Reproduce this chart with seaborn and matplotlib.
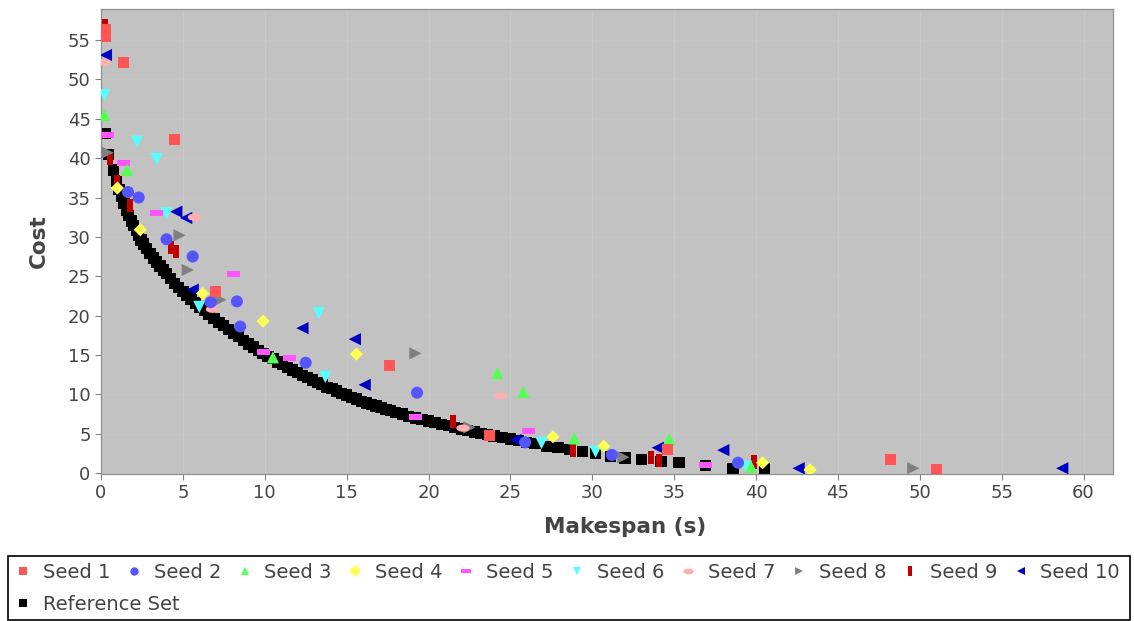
import numpy as np
import pandas as pd
import matplotlib
matplotlib.use("Agg")
import matplotlib.pyplot as plt
from matplotlib.path import Path
from matplotlib.transforms import Affine2D
from matplotlib.lines import Line2D
from matplotlib.patches import Rectangle
import seaborn as sns

# ---------------- data ----------------
seed1_x = [0.25, 0.25, 1.4, 4.5, 7.0, 17.6, 23.7, 34.6, 48.2, 51.0]
seed1_y = [56.3, 55.5, 52.1, 42.4, 23.0, 13.6, 4.8, 3.0, 1.7, 0.4]

seed2_x = [1.65, 2.3, 4.0, 5.6, 6.7, 8.3, 8.5, 12.5, 19.3, 25.9, 31.2, 38.9]
seed2_y = [35.7, 35.0, 29.7, 27.5, 21.7, 21.8, 18.6, 14.0, 10.2, 3.9, 2.3, 1.3]

seed3_x = [0.2, 1.6, 10.5, 24.2, 25.8, 28.9, 34.7, 39.7]
seed3_y = [45.5, 38.5, 14.7, 12.7, 10.3, 4.4, 4.3, 0.8]

seed4_x = [1.0, 2.4, 6.2, 9.9, 15.6, 27.6, 30.7, 40.4, 43.3]
seed4_y = [36.2, 30.9, 22.8, 19.3, 15.1, 4.6, 3.4, 1.3, 0.4]

seed5_x = [0.4, 1.35, 3.4, 8.1, 9.9, 11.5, 19.2, 26.1, 36.9]
seed5_y = [43.0, 39.4, 33.0, 25.3, 15.4, 14.6, 7.1, 5.3, 1.0]

seed6_x = [0.2, 2.2, 3.4, 4.0, 6.0, 13.3, 13.7, 26.9, 30.2, 39.4]
seed6_y = [48.0, 42.1, 39.9, 33.0, 21.1, 20.3, 12.2, 3.8, 2.7, 0.8]

seed7_x = [0.2, 5.7, 6.8, 22.1, 24.4]
seed7_y = [52.2, 32.5, 20.8, 5.7, 9.8]

seed8_x = [0.4, 4.8, 5.3, 7.3, 19.2, 22.5, 31.9, 49.6]
seed8_y = [40.7, 30.2, 25.8, 22.0, 15.2, 5.8, 2.0, 0.6]

seed9_x = [0.25, 0.55, 1.0, 1.75, 4.3, 4.6, 21.5, 28.8, 33.6, 34.1, 39.9]
seed9_y = [56.8, 40.0, 37.0, 34.0, 28.7, 28.1, 6.5, 2.9, 2.0, 1.6, 1.4]

seed10_x = [0.3, 4.6, 5.2, 5.6, 12.3, 15.5, 16.1, 25.3, 34.0, 38.0, 42.6, 58.7]
seed10_y = [53.1, 33.2, 32.4, 23.3, 18.4, 17.0, 11.2, 4.2, 3.2, 2.9, 0.6, 0.6]

ref_x = [0.25, 0.45, 0.75, 0.95, 1.10, 1.25, 1.40, 1.55, 1.70, 1.85, 2.00, 2.15,
         2.30, 2.45, 2.60, 2.80, 3.00, 3.20, 3.40, 3.60, 3.80, 4.00, 4.25, 4.50,
         4.75, 5.00, 5.25, 5.50, 5.75, 6.00, 6.30, 6.60, 6.90, 7.20, 7.50, 7.80,
         8.10, 8.40, 8.70, 9.00, 9.30, 9.60, 9.90, 10.20, 10.50, 10.80, 11.10,
         11.40, 11.70, 12.00, 12.30, 12.60, 12.90, 13.20, 13.50, 13.80, 14.10,
         14.40, 14.70, 15.00, 15.30, 15.60, 15.90, 16.20, 16.50, 16.80, 17.10,
         17.40, 17.70, 18.00, 18.40, 18.80, 19.20, 19.60, 20.00, 20.40, 20.80,
         21.20, 21.60, 22.00, 22.40, 22.80, 23.20, 23.60, 24.00, 24.50, 25.00,
         25.50, 26.00, 26.50, 27.20, 27.90, 28.60, 29.40, 30.20, 31.10, 32.00,
         33.00, 34.20, 35.30, 36.90, 38.60, 40.50]
ref_y = [43.1, 40.5, 38.5, 37.0, 36.0, 35.1, 34.2, 33.4, 32.7, 32.0, 31.4, 30.8,
         30.2, 29.6, 29.1, 28.5, 27.9, 27.3, 26.8, 26.3, 25.8, 25.3, 24.7, 24.1,
         23.6, 23.1, 22.6, 22.1, 21.6, 21.1, 20.6, 20.1, 19.6, 19.1, 18.7, 18.2,
         17.7, 17.3, 16.8, 16.4, 16.0, 15.6, 15.2, 14.8, 14.5, 14.1, 13.8,
         13.4, 13.1, 12.8, 12.4, 12.1, 11.8, 11.5, 11.2, 10.9, 10.7,
         10.4, 10.1, 9.9, 9.6, 9.4, 9.1, 8.9, 8.7, 8.5, 8.3,
         8.1, 7.9, 7.7, 7.5, 7.2, 7.0, 6.8, 6.6, 6.4, 6.2,
         6.0, 5.8, 5.6, 5.4, 5.2, 5.0, 4.85, 4.7, 4.5, 4.3,
         4.1, 3.9, 3.7, 3.4, 3.2, 2.95, 2.75, 2.45, 2.1, 1.9,
         1.75, 1.5, 1.3, 0.95, 0.6, 0.55]

series_names = ["Seed 1", "Seed 2", "Seed 3", "Seed 4", "Seed 5", "Seed 6",
                "Seed 7", "Seed 8", "Seed 9", "Seed 10", "Reference Set"]
x_ticks = list(range(0, 61, 5))
y_ticks = list(range(0, 56, 5))
x_label = "Makespan (s)"
y_label = "Cost"

# ---------------- styling ----------------
hrect = Path([(-1, -0.45), (1, -0.45), (1, 0.45), (-1, 0.45), (-1, -0.45)],
             [Path.MOVETO, Path.LINETO, Path.LINETO, Path.LINETO, Path.CLOSEPOLY])
vrect = Path([(-0.45, -1), (0.45, -1), (0.45, 1), (-0.45, 1), (-0.45, -1)],
             [Path.MOVETO, Path.LINETO, Path.LINETO, Path.LINETO, Path.CLOSEPOLY])
circ = Path.unit_circle()
hell = Path(Affine2D().scale(1.0, 0.55).transform(circ.vertices), circ.codes)

styles = {
    "Seed 1": ("#FF5555", "s", 62),
    "Seed 2": ("#5555FF", "o", 75),
    "Seed 3": ("#55FF55", "^", 78),
    "Seed 4": ("#FFFF55", "D", 45),
    "Seed 5": ("#FF55FF", hrect, 90),
    "Seed 6": ("#55FFFF", "v", 78),
    "Seed 7": ("#FFAFAF", hell, 90),
    "Seed 8": ("#808080", ">", 78),
    "Seed 9": ("#C00000", vrect, 90),
    "Seed 10": ("#0000C0", "<", 78),
    "Reference Set": ("#000000", "s", 66),
}

data = {
    "Seed 1": (seed1_x, seed1_y), "Seed 2": (seed2_x, seed2_y),
    "Seed 3": (seed3_x, seed3_y), "Seed 4": (seed4_x, seed4_y),
    "Seed 5": (seed5_x, seed5_y), "Seed 6": (seed6_x, seed6_y),
    "Seed 7": (seed7_x, seed7_y), "Seed 8": (seed8_x, seed8_y),
    "Seed 9": (seed9_x, seed9_y), "Seed 10": (seed10_x, seed10_y),
    "Reference Set": (ref_x, ref_y),
}

W, H = 1134, 621
fig = plt.figure(figsize=(W / 100, H / 100), dpi=100)
ax = fig.add_axes([101 / W, 1 - 474 / H, 1012 / W, 465 / H])
ax.set_facecolor("#C2C2C2")

# faint grid
for xv in x_ticks:
    ax.axvline(xv, color="#C9C9C9", lw=0.8, zorder=0)
for yv in y_ticks:
    ax.axhline(yv, color="#C6C6C6", lw=0.6, zorder=0)

# draw last series first so Seed 1 ends up on top
for z, name in enumerate(reversed(series_names)):
    xs, ys = data[name]
    col, mk, sz = styles[name]
    df = pd.DataFrame({"x": xs, "y": ys})
    sns.scatterplot(data=df, x="x", y="y", ax=ax, color=col, marker=mk, s=sz,
                    linewidth=0, edgecolor="none", zorder=2 + z, legend=False)

ax.set_xlim(0, 61.8)
ax.set_ylim(-0.13, 58.95)
ax.set_xticks(x_ticks)
ax.set_yticks(y_ticks)
ax.tick_params(axis="both", labelsize=13, labelcolor="#444444", color="#808080",
               length=4, width=0.8, direction="out")
ax.set_xlabel(x_label, fontsize=15.5, fontweight="bold", color="#444444")
ax.set_ylabel(y_label, fontsize=15.5, fontweight="bold", color="#444444")
ax.xaxis.set_label_coords(0.518, -0.092)
ax.yaxis.set_label_coords(-0.052, 0.50)
for sp in ax.spines.values():
    sp.set_color("#909090")
    sp.set_linewidth(0.9)

# legend: frame + two rows
handles = {}
for name in series_names:
    col, mk, sz = styles[name]
    msz = 7.5 if name in ("Seed 5", "Seed 7", "Seed 9") else 6
    handles[name] = Line2D([], [], linestyle="none", marker=mk, color=col,
                           markeredgewidth=0, markersize=msz, label=name)

fig.patches.append(Rectangle((8 / W, 1 / H), 1122 / W, 64 / H, transform=fig.transFigure,
                             facecolor="white", edgecolor="black", linewidth=1.2,
                             zorder=0))
row1 = series_names[:10]
leg_kw = dict(fontsize=14, frameon=False, handlelength=0.6, handletextpad=0.72,
              borderaxespad=0, borderpad=0)
leg1 = fig.legend([handles[n] for n in row1], row1, loc="center left",
                  bbox_to_anchor=(17 / W, 1 - 572 / H, 1103 / W, 0), mode="expand",
                  ncol=10, columnspacing=0.5, **leg_kw)
leg2 = fig.legend([handles["Reference Set"]], ["Reference Set"], loc="center left",
                  bbox_to_anchor=(17 / W, 1 - 604 / H), **leg_kw)
for lg in (leg1, leg2):
    for t in lg.get_texts():
        t.set_color("#444444")

fig.savefig("out.png", dpi=100)
